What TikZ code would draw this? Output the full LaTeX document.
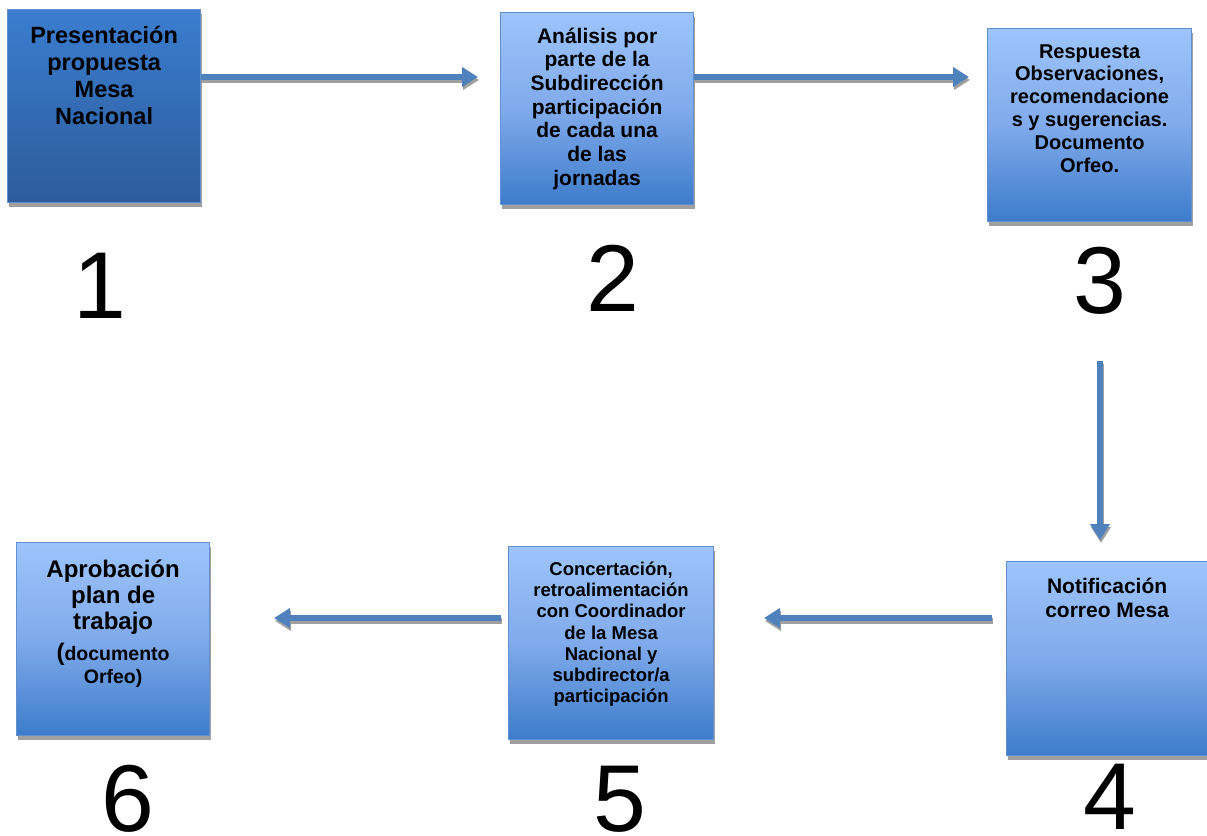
\documentclass[tikz,border=0pt]{standalone}
\usepackage{fontspec}
\setmainfont{Liberation Sans}
\usetikzlibrary{arrows.meta,shadows}

\definecolor{azulflecha}{RGB}{79,129,189}
\definecolor{sombragris}{RGB}{160,160,160}
\definecolor{bordeazul}{RGB}{98,143,205}
\definecolor{oscuroarriba}{RGB}{59,125,207}
\definecolor{oscuroabajo}{RGB}{44,92,155}
\definecolor{clarotop}{RGB}{157,196,251}
\definecolor{claromedio}{RGB}{128,170,235}
\definecolor{claroabajo}{RGB}{61,124,203}

% texto de una caja: ancho, alto, margen de arriba, texto
\newcommand{\caja}[4]{\parbox[t][#2][t]{#1}{\centering\vspace*{#3}#4\par}}

\tikzset{
  paso/.style={draw=bordeazul, line width=1.2pt, inner sep=0pt, anchor=north west, font=\bfseries,
    drop shadow={shadow xshift=1pt, shadow yshift=-4pt, fill=sombragris, opacity=1}},
  pasoclaro/.style={paso, top color=clarotop, bottom color=claroabajo, middle color=claromedio},
  pasooscuro/.style={paso, top color=oscuroarriba, bottom color=oscuroabajo},
  numero/.style={anchor=base, inner sep=0pt, font=\fontsize{95}{95}\selectfont},
  flecha/.style={draw=azulflecha, line width=6pt, -{Triangle[length=16pt,width=19pt]}},
  flechasombra/.style={flecha, draw=sombragris, transform canvas={shift={(1pt,-3pt)}}},
}

\begin{document}
\begin{tikzpicture}[x=1pt,y=-1pt]
  \useasboundingbox (0,0) rectangle (1207,835);

  % Las cajas de los pasos
  \node[pasooscuro] (b1) at (7,9) {\caja{193pt}{193pt}{17pt}{\fontsize{23.5}{27}\selectfont
    Presentación\\propuesta\\Mesa\\Nacional}};
  \node[pasoclaro] (b2) at (500,12) {\caja{193pt}{192pt}{15pt}{\fontsize{21}{23.7}\selectfont
    Análisis por\\parte de la\\Subdirección\\participación\\de cada una\\de las\\jornadas}};
  \node[pasoclaro] (b3) at (987,28) {\caja{204pt}{193pt}{15.7pt}{\fontsize{20}{22.9}\selectfont
    Respuesta\\Observaciones,\\recomendacione\\s y sugerencias.\\Documento\\Orfeo.}};
  \node[pasoclaro] (b4) at (1006,561) {\caja{210pt}{194pt}{16pt}{\fontsize{21}{24.5}\selectfont
    \hspace*{-9pt}Notificación\\\hspace*{-9pt}correo Mesa}};
  \node[pasoclaro] (b5) at (508,546) {\caja{205pt}{193pt}{15pt}{\fontsize{18.5}{21.3}\selectfont
    Concertación,\\retroalimentación\\con Coordinador\\de la Mesa\\Nacional y\\subdirector/a\\participación}};
  \node[pasoclaro] (b6) at (16,542) {\caja{193pt}{193pt}{17pt}{{\fontsize{24}{26}\selectfont
    Aprobación\\plan de\\trabajo\par}\vspace{8pt}
    {\fontsize{19.5}{23}\selectfont{\fontsize{24}{26}\selectfont(}documento\\Orfeo)\par}}};

  % Los numeros
  \node[numero] (n1) at (100,318) {1};
  \node[numero] (n2) at (613,311) {2};
  \node[numero] (n3) at (1100,313) {3};
  \node[numero] (n4) at (1110,829) {4};
  \node[numero] (n5) at (620,831) {5};
  \node[numero] (n6) at (128,831) {6};

  % Puntas libres de las flechas
  \coordinate (f12) at (478,77);
  \coordinate (s12) at (b1.east |- f12);
  \coordinate (f23) at (969,77);
  \coordinate (s23) at (b2.east |- f23);
  \coordinate (s34) at (1100,361);
  \coordinate (f34) at (1100,540);
  \coordinate (s45) at (992,618);
  \coordinate (f45) at (764,618);
  \coordinate (s56) at (501,618);
  \coordinate (f56) at (274,618);

  % Flechas con su sombra
  \foreach \desde/\hasta in {s12/f12, s23/f23, s34/f34, s45/f45, s56/f56} {
    \draw[flechasombra] (\desde) -- (\hasta);
    \draw[flecha] (\desde) -- (\hasta);
  }
\end{tikzpicture}
\end{document}
